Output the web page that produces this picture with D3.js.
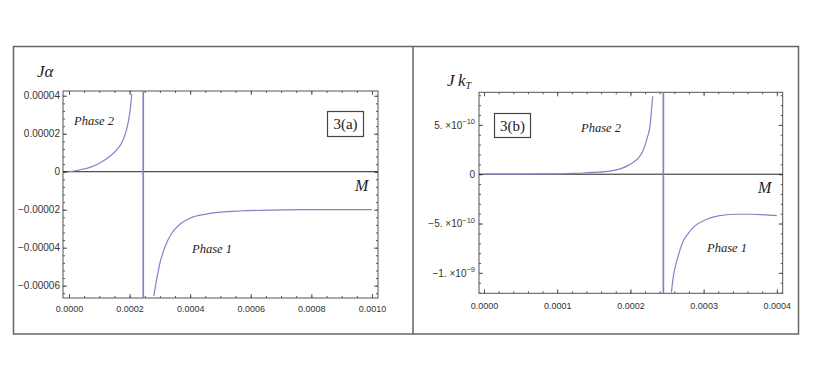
<!DOCTYPE html>
<html lang="en">
<head>
<meta charset="UTF-8">
<title>Phase 1 / Phase 2</title>
<script src="https://d3js.org/d3.v7.min.js"></script>
<style>
  body { margin: 0; background: #fff; }
  .tick text { font-family: "Liberation Sans", Arial, sans-serif; font-size: 9px; fill: #333; }
  .yax .tick text { font-size: 10px; }
  .tick line { stroke: #555; }
  .lbl { font-family: "Liberation Serif", "Times New Roman", serif; fill: #222; }
</style>
</head>
<body>
<svg id="chart" width="817" height="382"></svg>
<script>
// ---- panel 3(a): J alpha vs M ----
const aPhase2M = [0, 0.0000363, 0.0000693, 0.000102, 0.000135, 0.000163, 0.000175, 0.000185, 0.000196, 0.000204, 0.000207];
const aPhase2J = [0, 0.00000105, 0.0000023, 0.0000046, 0.0000081, 0.0000125, 0.0000155, 0.0000195, 0.0000265, 0.0000353, 0.0000409];
const aPhase1M = [0.000280, 0.000289, 0.000300, 0.000317, 0.000339, 0.000366, 0.000399, 0.000454, 0.000509, 0.000564, 0.000674, 0.000784, 0.000894, 0.001];
const aPhase1J = [-0.0000654, -0.000057, -0.0000482, -0.0000395, -0.0000324, -0.0000277, -0.0000245, -0.0000223, -0.0000212, -0.0000207, -0.0000202, -0.00002, -0.00002, -0.00002];
const aPoleM = 0.000245;
const aXTicks = [0, 0.0002, 0.0004, 0.0006, 0.0008, 0.001];
const aXTickLabels = ["0.0000", "0.0002", "0.0004", "0.0006", "0.0008", "0.0010"];
const aYTicks = [0.00004, 0.00002, 0, -0.00002, -0.00004, -0.00006];
const aYTickLabels = ["0.00004", "0.00002", "0", "\u22120.00002", "\u22120.00004", "\u22120.00006"];

// ---- panel 3(b): J k_T vs M ----
const bPhase2M = [0, 0.00005, 0.0001, 0.00012, 0.000136, 0.000149, 0.000172, 0.000186, 0.000199, 0.000211, 0.000218, 0.000223, 0.000227, 0.000229, 0.0002305];
const bPhase2J = [0, 0, 3e-12, 8e-12, 1.2e-11, 1.8e-11, 3.2e-11, 5.4e-11, 9.7e-11, 1.65e-10, 2.5e-10, 3.7e-10, 5.0e-10, 6.7e-10, 7.9e-10];
const bPhase1M = [0.000256, 0.0002586, 0.000262, 0.0002664, 0.000272, 0.000279, 0.000288, 0.000302, 0.00032, 0.000343, 0.000366, 0.000384, 0.0004];
const bPhase1J = [-1.2e-9, -1.038e-9, -9.2e-10, -8.0e-10, -6.8e-10, -6.0e-10, -5.24e-10, -4.64e-10, -4.23e-10, -4.06e-10, -4.06e-10, -4.13e-10, -4.2e-10];
const bPoleM = 0.000245;
const bXTicks = [0, 0.0001, 0.0002, 0.0003, 0.0004];
const bXTickLabels = ["0.0000", "0.0001", "0.0002", "0.0003", "0.0004"];
const bYTicks = [5e-10, 0, -5e-10, -1e-9];
const bYTickLabels = [["5. \u00d710", "\u221210"], ["0", ""], ["\u22125. \u00d710", "\u221210"], ["\u22121. \u00d710", "\u22129"]];

const svg = d3.select("#chart");
svg.append("rect").attr("width", 817).attr("height", 382).attr("fill", "#fff");

// outer frame + divider
svg.append("rect").attr("x", 13.5).attr("y", 46.5).attr("width", 785).attr("height", 287.5)
    .attr("fill", "none").attr("stroke", "#666").attr("stroke-width", 1.5);
svg.append("line").attr("x1", 413).attr("x2", 413).attr("y1", 46.5).attr("y2", 334)
    .attr("stroke", "#666").attr("stroke-width", 1.5);

const curveColor = "#8383c6";

function drawPanel(p) {
    const x = d3.scaleLinear().domain(p.xDomain).range([p.x0, p.x1]);
    const y = d3.scaleLinear().domain(p.yDomain).range([p.y1, p.y0]);
    const g = svg.append("g");

    const clipId = "clip-" + p.id.replace(/\W/g, "");
    svg.append("clipPath").attr("id", clipId).append("rect")
        .attr("x", p.x0).attr("y", p.y0).attr("width", p.x1 - p.x0).attr("height", p.y1 - p.y0);

    // minor ticks, all four sides
    const sides = [
        [d3.axisBottom, `translate(0,${p.y1})`, x, p.xMinor],
        [d3.axisTop, `translate(0,${p.y0})`, x, p.xMinor],
        [d3.axisLeft, `translate(${p.x0},0)`, y, p.yMinor],
        [d3.axisRight, `translate(${p.x1},0)`, y, p.yMinor]
    ];
    sides.forEach(([ax, tr, sc, minor]) => {
        g.append("g").attr("transform", tr)
            .call(ax(sc).tickValues(minor).tickSize(-2).tickFormat(""))
            .call(s => s.select(".domain").remove());
    });
    // major ticks on top / right, no labels
    g.append("g").attr("transform", `translate(0,${p.y0})`)
        .call(d3.axisTop(x).tickValues(p.xTicks).tickSize(-4).tickFormat(""))
        .call(s => s.select(".domain").remove());
    g.append("g").attr("transform", `translate(${p.x1},0)`)
        .call(d3.axisRight(y).tickValues(p.yTicks).tickSize(-4).tickFormat(""))
        .call(s => s.select(".domain").remove());

    // labelled bottom / left
    g.append("g").attr("transform", `translate(0,${p.y1})`)
        .call(d3.axisBottom(x).tickValues(p.xTicks).tickSize(-4).tickPadding(p.xPad)
            .tickFormat((d, i) => p.xLabels[i]))
        .call(s => s.select(".domain").remove());
    const yAx = g.append("g").attr("class", "yax").attr("transform", `translate(${p.x0},0)`)
        .call(d3.axisLeft(y).tickValues(p.yTicks).tickSize(-4).tickPadding(p.yPad)
            .tickFormat((d, i) => typeof p.yLabels[i] === "string" ? p.yLabels[i] : ""))
        .call(s => s.select(".domain").remove());
    if (typeof p.yLabels[0] !== "string") {
        yAx.selectAll(".tick text").each(function (d, i) {
            const t = d3.select(this);
            const [base, sup] = p.yLabels[i];
            t.append("tspan").text(base);
            if (sup) t.append("tspan").attr("dy", "-0.55em").attr("font-size", "7.5px").text(sup);
        });
    }

    // frame
    g.append("rect").attr("x", p.x0).attr("y", p.y0).attr("width", p.x1 - p.x0).attr("height", p.y1 - p.y0)
        .attr("fill", "none").attr("stroke", "#555").attr("stroke-width", 1);

    // zero axis
    g.append("line").attr("x1", p.x0).attr("x2", p.x1).attr("y1", y(0)).attr("y2", y(0))
        .attr("stroke", "#222").attr("stroke-width", 1);

    // curves
    const line = d3.line().x(d => x(d[0])).y(d => y(d[1])).curve(d3.curveMonotoneX);
    const plot = g.append("g").attr("clip-path", `url(#${clipId})`);
    [d3.zip(p.phase2M, p.phase2J), d3.zip(p.phase1M, p.phase1J)].forEach(pts => {
        plot.append("path").attr("d", line(pts)).attr("fill", "none")
            .attr("stroke", curveColor).attr("stroke-width", 1.2);
    });
    plot.append("line")
        .attr("x1", x(p.pole)).attr("x2", x(p.pole))
        .attr("y1", y(p.yDomain[1])).attr("y2", y(p.yDomain[0]))
        .attr("stroke", curveColor).attr("stroke-width", 1.7);

    // annotations
    g.append("text").attr("class", "lbl").attr("x", p.p2[0]).attr("y", p.p2[1])
        .attr("font-size", "12.5px").attr("font-style", "italic").text("Phase 2");
    g.append("text").attr("class", "lbl").attr("x", p.p1[0]).attr("y", p.p1[1])
        .attr("font-size", "12.5px").attr("font-style", "italic").text("Phase 1");
    g.append("text").attr("class", "lbl").attr("x", p.mLbl[0]).attr("y", p.mLbl[1])
        .attr("font-size", "16px").attr("font-style", "italic").text("M");
    const b = p.box;
    g.append("rect").attr("x", b[0] + 0.5).attr("y", b[1] + 0.5).attr("width", b[2]).attr("height", b[3])
        .attr("fill", "#fff").attr("stroke", "#444").attr("stroke-width", 1.2);
    g.append("text").attr("class", "lbl").attr("x", b[0] + b[2] / 2 + 0.5).attr("y", b[1] + b[3] / 2 + 5.5)
        .attr("text-anchor", "middle").attr("font-size", "15px").text(p.id);
    p.yTitle(g);
}

drawPanel({
    id: "3(a)",
    x0: 63, x1: 378, y0: 91, y1: 298,
    xDomain: [-0.0000198, 0.00102], yDomain: [-0.0000665, 0.0000425],
    xTicks: aXTicks, xLabels: aXTickLabels, yTicks: aYTicks, yLabels: aYTickLabels,
    xMinor: d3.range(0, 0.00102, 0.00005), yMinor: d3.range(-0.000064, 0.0000425, 0.000004),
    xPad: 8, yPad: 3,
    phase2M: aPhase2M, phase2J: aPhase2J, phase1M: aPhase1M, phase1J: aPhase1J, pole: aPoleM,
    p2: [74, 125], p1: [192, 253], mLbl: [355, 191], box: [327, 111, 36, 25],
    yTitle: g => {
        g.append("text").attr("class", "lbl").attr("x", 37).attr("y", 77)
            .attr("font-size", "17px").attr("font-style", "italic").text("J\u03b1");
    }
});

drawPanel({
    id: "3(b)",
    x0: 479, x1: 782.7, y0: 92.3, y1: 293.3,
    xDomain: [-0.0000068, 0.000408], yDomain: [-1.207e-9, 8.3e-10],
    xTicks: bXTicks, xLabels: bXTickLabels, yTicks: bYTicks, yLabels: bYTickLabels,
    xMinor: d3.range(0, 0.000401, 0.00002), yMinor: d3.range(-1.2e-9, 8.3e-10, 1e-10),
    xPad: 9, yPad: 4,
    phase2M: bPhase2M, phase2J: bPhase2J, phase1M: bPhase1M, phase1J: bPhase1J, pole: bPoleM,
    p2: [581, 132], p1: [707, 252], mLbl: [758, 193], box: [494, 113, 36, 24],
    yTitle: g => {
        const t = g.append("text").attr("class", "lbl").attr("x", 447).attr("y", 86)
            .attr("font-size", "17px").attr("font-style", "italic");
        t.append("tspan").text("J\u2009k");
        t.append("tspan").attr("dy", "3").attr("font-size", "10px").text("T");
    }
});
</script>
</body>
</html>
